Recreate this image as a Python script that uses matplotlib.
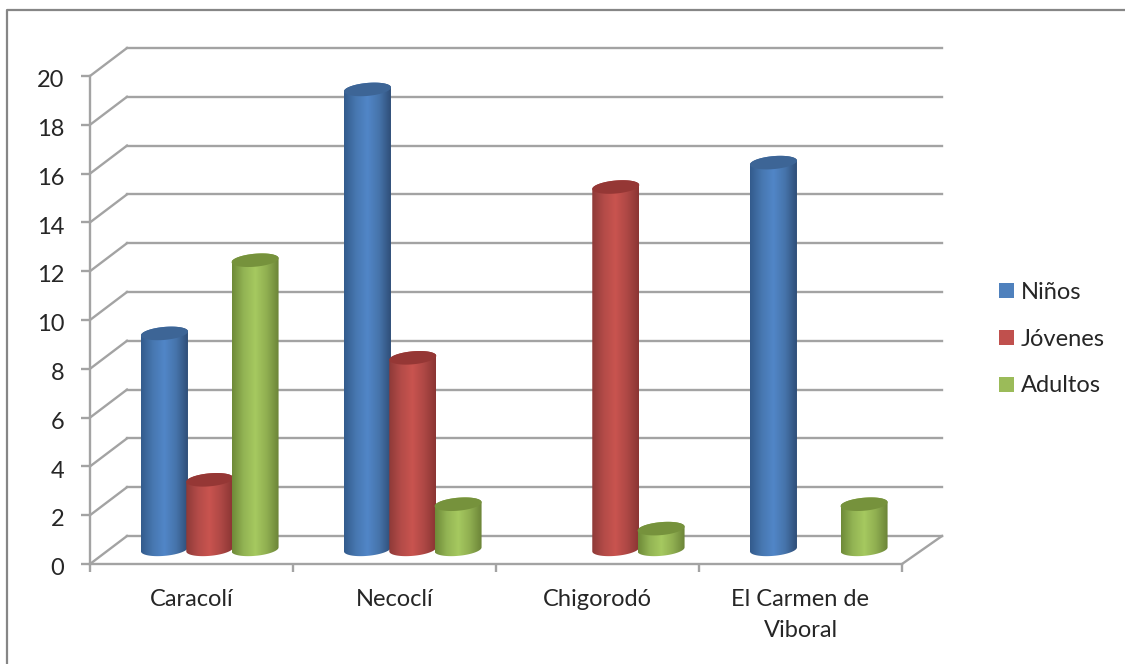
"""Columnas cilíndricas por municipio y grupo de edad, con paredes en falsa perspectiva."""

import numpy as np
import matplotlib
matplotlib.use("Agg")
import matplotlib.pyplot as plt
from matplotlib.colors import LinearSegmentedColormap
from matplotlib.lines import Line2D
from matplotlib.patches import Patch, PathPatch
from matplotlib.path import Path
from matplotlib.transforms import ScaledTranslation

plt.rcParams["font.family"] = ["Lato", "DejaVu Sans"]

municipios = ["Caracolí", "Necoclí", "Chigorodó", "El Carmen de\nViboral"]
grupos = ["Niños", "Jóvenes", "Adultos"]
ninos = [9, 19, 0, 16]
jovenes = [3, 8, 15, 0]
adultos = [12, 2, 1, 2]
ticks_y = list(range(0, 21, 2))

W, H = 1125, 664
GRIS = "#a3a3a3"
TEXTO = "#262626"
TAM = 17

# Degradado horizontal del cuerpo, tapa y color de leyenda de cada serie
estilos = {
    "Niños": (["#335b8c", "#4777b0", "#5186c8", "#4674ab", "#2f4e78"], "#3d6596", "#4f81bd"),
    "Jóvenes": (["#8e3a38", "#b34b48", "#c9544f", "#ae4845", "#8a3533"], "#953735", "#c0504d"),
    "Adultos": (["#6e8a38", "#93b454", "#a6c960", "#8fae50", "#6c8438"], "#76923c", "#9bbb59"),
}

fig = plt.figure(figsize=(W / 100, H / 100), dpi=100)
ax = fig.add_axes([90 / W, (H - 564) / H, 812 / W, 488 / H])

# Conversión de píxeles a unidades de datos
ux = 4 / 812
uy = 20 / 488
fondo_x = 37 * ux
fondo_y = 28 * uy
fin_x = 40 * ux

# Rejilla del fondo con sus diagonales hasta el eje
for v in ticks_y:
    ax.plot([0, fondo_x], [v, v + fondo_y], color=GRIS, lw=1.7, clip_on=False, zorder=1)
    ax.plot([fondo_x, 4 + fin_x], [v + fondo_y, v + fondo_y], color=GRIS, lw=1.7,
            clip_on=False, zorder=1)
ax.plot([4, 4 + fin_x], [0, fondo_y], color=GRIS, lw=1.7, clip_on=False, zorder=1)


def cilindro(cx, valor, colores, tapa, z):
    """Dibuja un cilindro centrado en cx con la altura de valor."""
    a = 23.5 * ux
    b = 6.5 * uy
    inclina = 2 * uy
    base = 0.6
    tope = valor + 0.45

    # Silueta: arco inferior de la base, lados y arco superior de la tapa
    inf = np.linspace(np.pi, 2 * np.pi, 37)
    sup = np.linspace(0, np.pi, 37)
    px = np.r_[cx + a * np.cos(inf), cx + a * np.cos(sup)]
    py = np.r_[base + b * np.sin(inf) + inclina * np.cos(inf),
               tope + b * np.sin(sup) + inclina * np.cos(sup)]
    cuerpo = PathPatch(Path(np.c_[px, py]), fc="none", ec="none", clip_on=False)
    ax.add_patch(cuerpo)

    cmap = LinearSegmentedColormap.from_list("cil", colores)
    img = ax.imshow(np.linspace(0, 1, 128).reshape(1, -1), cmap=cmap, aspect="auto",
                    extent=(cx - a, cx + a, base - 1, tope + 1), zorder=z,
                    interpolation="bilinear")
    img.set_clip_path(cuerpo)

    t = np.linspace(0, 2 * np.pi, 73)
    ax.fill(cx + a * np.cos(t), tope + b * np.sin(t) + inclina * np.cos(t),
            color=tapa, lw=0, zorder=z, clip_on=False)


centros = np.arange(4) + 0.59
separa = 45.3 * ux
series = [ninos, jovenes, adultos]
for j, (grupo, valores) in enumerate(zip(grupos, series)):
    colores, tapa, _ = estilos[grupo]
    for i, valor in enumerate(valores):
        if valor > 0:
            cilindro(centros[i] + (j - 1) * separa, valor, colores, tapa, 3 + j)

ax.set_xlim(0, 4)
ax.set_ylim(0, 20)

# Ejes frontales
for lado in ("top", "right"):
    ax.spines[lado].set_visible(False)
for lado in ("left", "bottom"):
    ax.spines[lado].set_color(GRIS)
    ax.spines[lado].set_linewidth(1.7)

ax.set_yticks(ticks_y)
ax.tick_params(axis="y", length=6.5, width=1.7, color=GRIS, labelsize=TAM, labelcolor=TEXTO, pad=12)
baja = ScaledTranslation(0, -2 / 72, fig.dpi_scale_trans)
for etiqueta in ax.get_yticklabels():
    etiqueta.set_transform(etiqueta.get_transform() + baja)
ax.set_xticks(range(5))
ax.set_xticklabels([])
ax.tick_params(axis="x", which="major", length=6, width=1.7, color=GRIS)
ax.set_xticks(np.arange(4) + 0.5, minor=True)
ax.set_xticklabels(municipios, minor=True, fontsize=TAM, color=TEXTO, linespacing=1.6)
ax.tick_params(axis="x", which="minor", length=0, pad=18)

# Leyenda
marcas = [Patch(fc=estilos[g][2], ec="none") for g in grupos]
fig.legend(marcas, grupos, loc="center left", bbox_to_anchor=(999 / W, 1 - 339 / H),
           frameon=False, fontsize=TAM, labelcolor=TEXTO, handlelength=0.62,
           handleheight=0.62, handletextpad=0.3, labelspacing=1.1, borderpad=0,
           borderaxespad=0)

# Marco exterior: solo queda a la vista por arriba y por la izquierda
fig.add_artist(Line2D([7 / W, 7 / W, 1], [0, 1 - 10 / H, 1 - 10 / H], color="#868686", lw=1.6))

fig.savefig("out.png", dpi=100)
